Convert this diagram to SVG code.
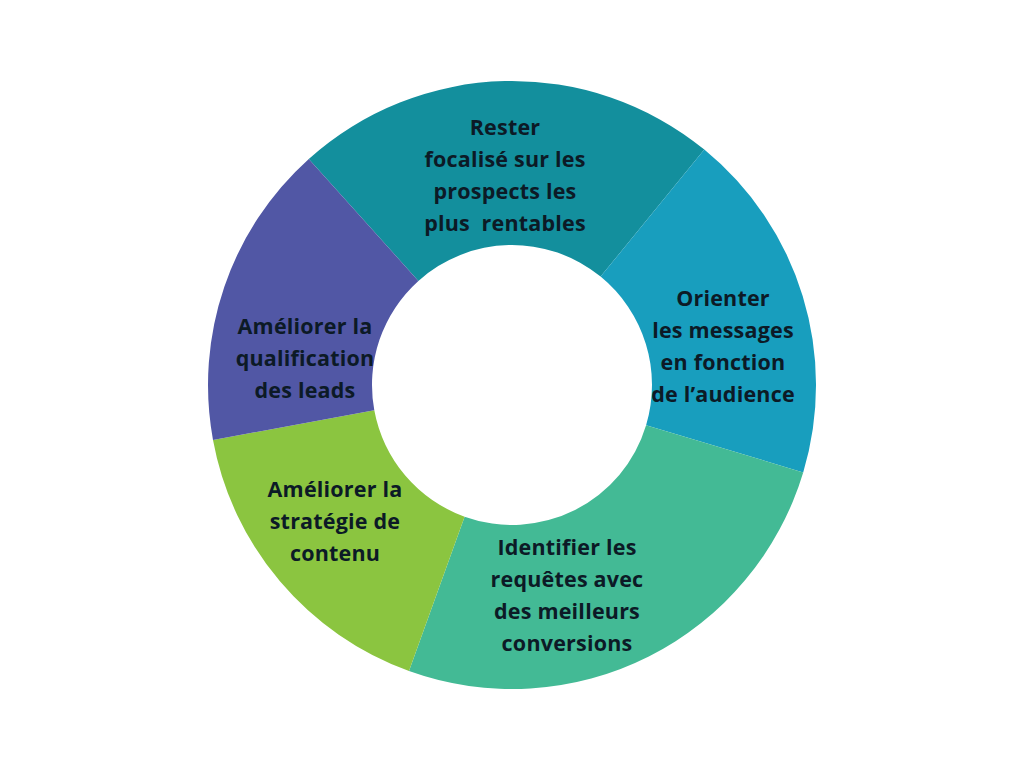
<svg xmlns="http://www.w3.org/2000/svg" width="1024" height="768" viewBox="0 0 1024 768">
<style>
.lbl{font-family:"Open Sans","Liberation Sans",sans-serif;font-weight:700;font-size:21.5px;letter-spacing:0.2px;fill:#0c1a26;text-anchor:middle;white-space:pre}
</style>
<rect width="1024" height="768" fill="#ffffff"/>
<g id="seg-top">
<path d="M308.8,158.9 A304,304 0 0 1 704.3,149.6 L600.6,276.6 A140,140 0 0 0 418.4,280.9 Z" fill="#138F9D"/>
<text class="lbl" xml:space="preserve"><tspan x="505" y="135">Rester</tspan><tspan x="505" y="167">focalisé sur les</tspan><tspan x="505" y="199">prospects les</tspan><tspan x="505" y="231">plus  rentables</tspan></text>
</g>
<g id="seg-right">
<path d="M704.3,149.6 A304,304 0 0 1 803.2,472.4 L646.1,425.2 A140,140 0 0 0 600.6,276.6 Z" fill="#189EBE"/>
<text class="lbl"><tspan x="723" y="306">Orienter</tspan><tspan x="723" y="338">les messages</tspan><tspan x="723" y="370">en fonction</tspan><tspan x="723" y="402">de l’audience</tspan></text>
</g>
<g id="seg-bottom">
<path d="M803.2,472.4 A304,304 0 0 1 409.0,671.0 L464.6,516.7 A140,140 0 0 0 646.1,425.2 Z" fill="#43BA95"/>
<text class="lbl"><tspan x="567" y="555">Identifier les</tspan><tspan x="567" y="587">requêtes avec</tspan><tspan x="567" y="619">des meilleurs</tspan><tspan x="567" y="651">conversions</tspan></text>
</g>
<g id="seg-lowerleft">
<path d="M409.0,671.0 A304,304 0 0 1 213.0,439.9 L374.3,410.3 A140,140 0 0 0 464.6,516.7 Z" fill="#8BC540"/>
<text class="lbl"><tspan x="335" y="497">Améliorer la</tspan><tspan x="335" y="529">stratégie de</tspan><tspan x="335" y="561">contenu</tspan></text>
</g>
<g id="seg-left">
<path d="M213.0,439.9 A304,304 0 0 1 308.8,158.9 L418.4,280.9 A140,140 0 0 0 374.3,410.3 Z" fill="#5157A5"/>
<text class="lbl"><tspan x="305" y="334">Améliorer la</tspan><tspan x="305" y="366">qualification</tspan><tspan x="305" y="398">des leads</tspan></text>
</g>
<g id="connectors"/>
</svg>
